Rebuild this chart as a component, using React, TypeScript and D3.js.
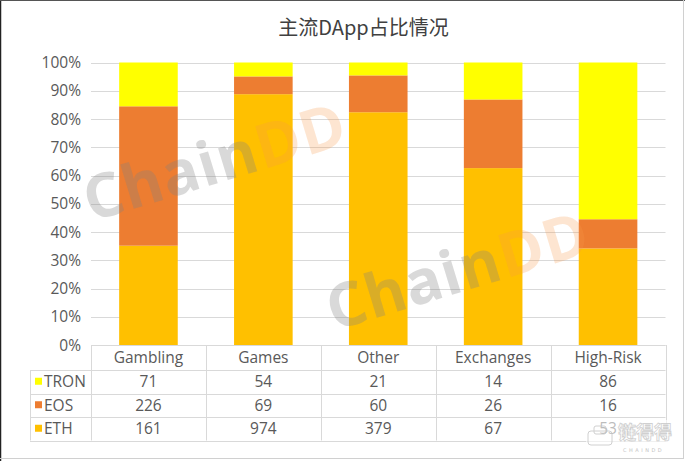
import React from "react";
import * as d3 from "d3";

const categories = ["Gambling", "Games", "Other", "Exchanges", "High-Risk"];
const seriesNames = ["ETH", "EOS", "TRON"];
const tronValues = [71, 54, 21, 14, 86];
const eosValues = [226, 69, 60, 26, 16];
const ethValues = [161, 974, 379, 67, 53];
const yTicks = [0, 0.1, 0.2, 0.3, 0.4, 0.5, 0.6, 0.7, 0.8, 0.9, 1];
const colors: Record<string, string> = { TRON: "#FFFF00", EOS: "#ED7D31", ETH: "#FFC000" };

const W = 685;
const H = 461;
const plotL = 91;
const plotR = 665.5;
const plotT = 62.5;
const plotB = 345;
const rowYs = [345, 370, 393.5, 417, 440.5];
const legendL = 30;
const textColor = "#595959";
const gridColor = "#D9D9D9";
const font = "'Open Sans', 'Noto Sans CJK SC', sans-serif";
const fs = 15.5;

export default function App() {
  const rows = categories.map((c, i) => ({
    cat: c,
    ETH: ethValues[i],
    EOS: eosValues[i],
    TRON: tronValues[i],
  }));
  const stack = d3.stack<any>().keys(seriesNames).offset(d3.stackOffsetExpand);
  const stacked = stack(rows);

  const xCol = d3.scaleBand<string>().domain(categories).range([plotL, plotR]).padding(0);
  const xBar = d3
    .scaleBand<string>()
    .domain(categories)
    .range([plotL, plotR])
    .paddingInner(0.49)
    .paddingOuter(0.245);
  const y = d3.scaleLinear().domain([0, 1]).range([plotB, plotT]);
  const fmt = d3.format(".0%");

  const tableRows = [
    { name: "TRON", values: tronValues },
    { name: "EOS", values: eosValues },
    { name: "ETH", values: ethValues },
  ];

  const wm = (x: number, yy: number, key: string) => (
    <text
      key={key}
      transform={`translate(${x},${yy}) rotate(-17)`}
      fontFamily="'Open Sans', 'DejaVu Sans', sans-serif"
      fontWeight={700}
      fontSize={61}
      letterSpacing={1}
    >
      <tspan fill="rgba(128,128,128,0.3)">Chain</tspan>
      <tspan fill="rgba(247,150,70,0.25)">DD</tspan>
    </text>
  );

  return (
    <svg
      width={W}
      height={H}
      style={{ position: "absolute", left: 0, top: 0, background: "#fff" }}
    >
      <rect x={0} y={0} width={W} height={H} fill="#fff" />
      {/* frame */}
      <line x1={0.5} y1={0} x2={0.5} y2={H} stroke="#222" strokeWidth={1.5} />
      <line x1={0} y1={0.5} x2={W} y2={0.5} stroke="#555" strokeWidth={1} />
      <line x1={683.5} y1={0} x2={683.5} y2={459} stroke="#D0D0D0" strokeWidth={1} />
      <line x1={0} y1={458.5} x2={684} y2={458.5} stroke="#D0D0D0" strokeWidth={1} />

      {/* title */}
      <text
        x={363.5}
        y={35}
        textAnchor="middle"
        fontFamily="'Noto Sans CJK SC', sans-serif"
        fontSize={20}
        fill="#404040"
      >
        主流DApp占比情况
      </text>

      {/* grid */}
      {yTicks.map((t) => (
        <line
          key={"g" + t}
          x1={plotL}
          x2={plotR}
          y1={Math.round(y(t)) + 0.5}
          y2={Math.round(y(t)) + 0.5}
          stroke={gridColor}
          strokeWidth={1}
        />
      ))}
      {yTicks.map((t) => (
        <text
          key={"yl" + t}
          x={81}
          y={y(t) + 5.5}
          textAnchor="end"
          fontFamily={font}
          fontSize={fs}
          fill={textColor}
        >
          {fmt(t)}
        </text>
      ))}

      {/* bars */}
      {stacked.map((s) => (
        <g key={s.key} fill={colors[s.key]}>
          {s.map((d, i) => (
            <rect
              key={i}
              x={xBar(categories[i])}
              width={xBar.bandwidth()}
              y={y(d[1])}
              height={y(d[0]) - y(d[1])}
            />
          ))}
        </g>
      ))}

      {/* watermarks */}
      {wm(91, 222, "w1")}
      {wm(334, 331, "w2")}

      {/* table */}
      <g stroke={gridColor} strokeWidth={1}>
        <line x1={plotL} x2={plotR} y1={rowYs[0] + 0.5} y2={rowYs[0] + 0.5} />
        {rowYs.slice(1).map((ry, i) => (
          <line key={"h" + i} x1={legendL} x2={plotR} y1={Math.round(ry) + 0.5} y2={Math.round(ry) + 0.5} />
        ))}
        <line x1={legendL + 0.5} x2={legendL + 0.5} y1={rowYs[1]} y2={rowYs[4]} />
        {categories.map((c) => (
          <line
            key={"v" + c}
            x1={Math.round(xCol(c)!) + 0.5}
            x2={Math.round(xCol(c)!) + 0.5}
            y1={rowYs[0]}
            y2={rowYs[4]}
          />
        ))}
        <line x1={Math.round(plotR) + 0.5} x2={Math.round(plotR) + 0.5} y1={rowYs[0]} y2={rowYs[4]} />
      </g>
      {categories.map((c) => (
        <text
          key={"c" + c}
          x={xCol(c)! + xCol.bandwidth() / 2}
          y={(rowYs[0] + rowYs[1]) / 2 + 5.5}
          textAnchor="middle"
          fontFamily={font}
          fontSize={fs}
          fill={textColor}
        >
          {c}
        </text>
      ))}
      {tableRows.map((r, ri) => {
        const cy = (rowYs[ri + 1] + rowYs[ri + 2]) / 2;
        return (
          <g key={r.name}>
            <rect x={35} y={cy - 4} width={7} height={7} fill={colors[r.name]} />
            <text x={44} y={cy + 5.5} fontFamily={font} fontSize={fs} fill={textColor}>
              {r.name}
            </text>
            {r.values.map((v, i) => (
              <text
                key={i}
                x={xCol(categories[i])! + xCol.bandwidth() / 2}
                y={cy + 5.5}
                textAnchor="middle"
                fontFamily={font}
                fontSize={fs}
                fill={textColor}
              >
                {v}
              </text>
            ))}
          </g>
        );
      })}

      {/* logo */}
      <rect x={586} y={420} width={94} height={33} fill="#fff" opacity={0.6} />
      <g opacity={0.85}>
        <rect x={588} y={431} width={24} height={14} rx={3} fill="none" stroke="#C8C8C8" strokeWidth={1} />
        <rect x={594} y={426} width={12} height={8} rx={2} fill="none" stroke="#C8C8C8" strokeWidth={1} />
        <text
          x={618}
          y={439}
          fontFamily="'Noto Sans CJK SC', sans-serif"
          fontSize={18}
          fontWeight={700}
          fill="#fff"
          stroke="#C8C8C8"
          strokeWidth={0.8}
        >
          链得得
        </text>
        <text
          x={623}
          y={452}
          fontFamily="'DejaVu Sans', sans-serif"
          fontSize={5}
          letterSpacing={2.5}
          fill="#B8B8B8"
        >
          CHAINDD
        </text>
      </g>
    </svg>
  );
}
